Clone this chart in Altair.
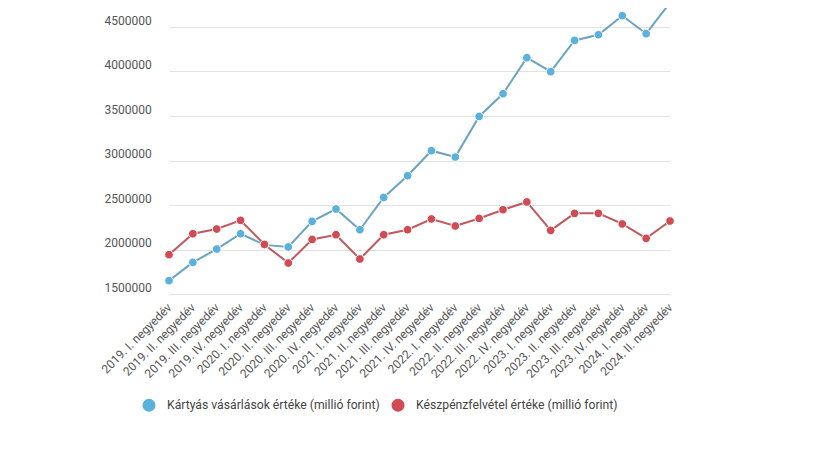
import altair as alt
import pandas as pd

quarters = [
    "2019. I. negyedév", "2019. II. negyedév", "2019. III. negyedév", "2019. IV. negyedév",
    "2020. I. negyedév", "2020. II. negyedév", "2020. III. negyedév", "2020. IV. negyedév",
    "2021. I. negyedév", "2021. II. negyedév", "2021. III. negyedév", "2021. IV. negyedév",
    "2022. I. negyedév", "2022. II. negyedév", "2022. III. negyedév", "2022. IV. negyedév",
    "2023. I. negyedév", "2023. II. negyedév", "2023. III. negyedév", "2023. IV. negyedév",
    "2024. I. negyedév", "2024. II. negyedév",
]

card = [1650000, 1855000, 2005000, 2177000, 2052000, 2028000, 2316000, 2455000,
        2222000, 2585000, 2829000, 3110000, 3039000, 3495000, 3750000, 4155000,
        3998000, 4349000, 4413000, 4627000, 4425000, 4773000]

cash = [1942000, 2177000, 2230000, 2327000, 2057000, 1848000, 2113000, 2166000,
        1893000, 2166000, 2222000, 2343000, 2264000, 2349000, 2447000, 2534000,
        2215000, 2406000, 2406000, 2287000, 2125000, 2320000]

series_names = ["Kártyás vásárlások értéke (millió forint)",
                "Készpénzfelvétel értéke (millió forint)"]
point_colors = ["#5bb1de", "#d14b55"]
line_colors = ["#6aa4c0", "#c2575e"]

rows = []
for name, vals in zip(series_names, [card, cash]):
    for q, v in zip(quarters, vals):
        rows.append({"negyedev": q, "ertek": v, "sorozat": name})
df = pd.DataFrame(rows)

FONT = "Roboto"

x_enc = alt.X(
    "negyedev:N",
    sort=quarters,
    scale=alt.Scale(type="point", range=[65, 566], padding=0),
    axis=alt.Axis(
        title=None, grid=False, domain=False, ticks=False, tickSize=0,
        labelAngle=-45, labelAlign="right", labelBaseline="middle",
        labelPadding=11, labelFontSize=12, labelColor="#555555", labelFont=FONT,
    ),
)
y_enc = alt.Y(
    "ertek:Q",
    scale=alt.Scale(domain=[1500000, 4500000], nice=False, zero=False),
    axis=alt.Axis(
        title=None, values=[1500000, 2000000, 2500000, 3000000, 3500000, 4000000, 4500000],
        format="d", domain=False, ticks=False, tickSize=0,
        labelAlign="left", labelBaseline="alphabetic", labelPadding=0, labelOffset=-3,
        labelFontSize=12, labelColor="#555555", labelFont=FONT,
        grid=True, gridColor="#e2e2e2", gridWidth=1,
    ),
)

lines = alt.Chart(df).mark_line(strokeWidth=2).encode(
    x=x_enc, y=y_enc,
    color=alt.Color("sorozat:N", sort=series_names,
                    scale=alt.Scale(domain=series_names, range=line_colors), legend=None),
)

points = alt.Chart(df).mark_point(filled=True, size=75, opacity=1,
                                  stroke="white", strokeWidth=1).encode(
    x=x_enc, y=y_enc,
    fill=alt.Fill("sorozat:N", sort=series_names,
                  scale=alt.Scale(domain=series_names, range=point_colors),
                  legend=alt.Legend(
                      title=None, orient="none", direction="horizontal",
                      legendX=38, legendY=371, padding=0,
                      symbolType="circle", symbolSize=170, symbolStrokeWidth=0,
                      labelFontSize=12.2, labelColor="#444444", labelFont=FONT,
                      labelOffset=11, columnPadding=11, labelLimit=500,
                  )),
)

chart = alt.layer(lines, points).resolve_scale(color="independent", fill="independent").properties(
    width=578, height=267,
    padding={"left": 96, "top": 19, "right": 120, "bottom": 140},
    autosize=alt.AutoSizeParams(type="none"),
).configure(font=FONT).configure_view(strokeWidth=0, stroke=None)

chart.save("out.html", embed_options={"renderer": "svg", "actions": False})
